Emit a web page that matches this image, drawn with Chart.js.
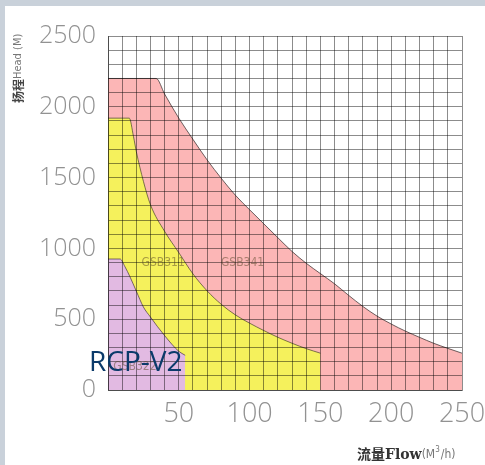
<!DOCTYPE html>
<html>
<head>
<meta charset="utf-8">
<script src="https://cdn.jsdelivr.net/npm/chart.js@4"></script>
<style>
  html, body { margin: 0; padding: 0; background: #c9d1da; }
  canvas { display: block; }
</style>
</head>
<body>
<canvas id="pumpChart" width="485" height="465"></canvas>
<script>
// Flow (M3/h) and head (M) of each pump envelope
const gsb341Flow = [0, 34, 40, 50, 60, 70, 80, 90, 100, 110, 120, 130, 140, 150, 160, 170, 180, 190, 200, 210, 220, 230, 240, 250];
const gsb341Head = [2200, 2200, 2090, 1920, 1770, 1625, 1495, 1375, 1273, 1174, 1075, 978, 895, 822, 750, 668, 590, 522, 466, 416, 372, 330, 294, 260];

const gsb311Flow = [0, 15, 18, 20, 25, 30, 40, 50, 60, 70, 80, 90, 100, 110, 120, 130, 140, 150];
const gsb311Head = [1920, 1920, 1790, 1684, 1474, 1308, 1120, 970, 820, 700, 605, 530, 472, 420, 372, 330, 292, 260];

const gsb322Flow = [0, 8.5, 12, 15.5, 20, 25, 30, 35, 40, 45, 50, 54.5];
const gsb322Head = [925, 925, 870, 800, 698, 586, 515, 447, 384, 324, 273, 245];

const xTickLabels = [50, 100, 150, 200, 250];
const yTickLabels = [0, 500, 1000, 1500, 2000, 2500];

function toPoints(xs, ys) {
    return xs.map((x, i) => ({ x: x, y: ys[i] }));
}

const gridColor = "rgba(0, 0, 0, 0.45)";
const tickColor = "#929292";

// background panel and free text on the chart
const decorPlugin = {
    id: "decor",
    beforeDraw(chart) {
        const ctx = chart.ctx;
        ctx.save();
        ctx.fillStyle = "#c9d1da";
        ctx.fillRect(0, 0, chart.width, chart.height);
        ctx.fillStyle = "#ffffff";
        ctx.fillRect(5, 6, chart.width - 5, chart.height - 6);
        ctx.restore();
    },
    afterDraw(chart) {
        const ctx = chart.ctx;
        const xs = chart.scales.x;
        const ys = chart.scales.y;
        ctx.save();

        // region labels
        ctx.font = "12px 'Liberation Sans Narrow', 'DejaVu Sans Condensed', sans-serif";
        ctx.fillStyle = "rgba(90, 70, 40, 0.5)";
        ctx.textBaseline = "middle";
        ctx.textAlign = "center";
        ctx.fillText("GSB311", xs.getPixelForValue(39), ys.getPixelForValue(900));
        ctx.fillText("GSB341", xs.getPixelForValue(95), ys.getPixelForValue(900));
        ctx.fillText("GSB322", xs.getPixelForValue(19), ys.getPixelForValue(165));

        // product name
        ctx.font = "28px 'Open Sans', sans-serif";
        ctx.fillStyle = "#0b3a6a";
        ctx.textAlign = "left";
        ctx.textBaseline = "alphabetic";
        ctx.fillText("RCP-V2", 89, 371);

        // x axis title
        ctx.textBaseline = "middle";
        ctx.font = "bold 14px 'DejaVu Serif', 'Noto Sans CJK SC', serif";
        ctx.fillStyle = "#333333";
        ctx.fillText("流量Flow", 357, 455);
        let w = ctx.measureText("流量Flow").width;
        ctx.font = "12px 'DejaVu Sans Condensed', sans-serif";
        ctx.fillStyle = "#777777";
        ctx.fillText("(M", 357 + w, 455);
        let w2 = ctx.measureText("(M").width;
        ctx.font = "8px 'DejaVu Sans Condensed', sans-serif";
        ctx.fillText("3", 357 + w + w2, 450);
        let w3 = ctx.measureText("3").width;
        ctx.font = "12px 'DejaVu Sans Condensed', sans-serif";
        ctx.fillText("/h)", 357 + w + w2 + w3 + 1, 455);

        // y axis title (rotated)
        ctx.translate(18, 103);
        ctx.rotate(-Math.PI / 2);
        ctx.textAlign = "left";
        ctx.font = "bold 12px 'Noto Sans CJK SC', sans-serif";
        ctx.fillStyle = "#444444";
        ctx.fillText("扬程", 0, 0);
        w = ctx.measureText("扬程").width;
        ctx.font = "11px 'DejaVu Sans Condensed', sans-serif";
        ctx.fillStyle = "#777777";
        ctx.fillText("Head (M)", w, 0);

        ctx.restore();
    },
};

const ctx = document.getElementById("pumpChart").getContext("2d");

const config = {
    type: "line",
    data: {
        datasets: [
            {
                label: "GSB322",
                data: toPoints(gsb322Flow, gsb322Head),
                backgroundColor: "rgb(226, 186, 226)",
                borderColor: "rgba(70, 50, 70, 0.7)",
                borderWidth: 1,
                fill: "origin",
                pointRadius: 0,
                cubicInterpolationMode: "monotone",
            },
            {
                label: "GSB311",
                data: toPoints(gsb311Flow, gsb311Head),
                backgroundColor: "rgb(245, 241, 92)",
                borderColor: "rgba(70, 70, 40, 0.7)",
                borderWidth: 1,
                fill: "origin",
                pointRadius: 0,
                cubicInterpolationMode: "monotone",
            },
            {
                label: "GSB341",
                data: toPoints(gsb341Flow, gsb341Head),
                backgroundColor: "rgb(252, 182, 182)",
                borderColor: "rgba(60, 50, 50, 0.75)",
                borderWidth: 1,
                fill: "origin",
                pointRadius: 0,
                cubicInterpolationMode: "monotone",
            },
        ],
    },
    options: {
        responsive: false,
        animation: false,
        layout: {
            padding: { top: 36, right: 23, left: 0, bottom: 0 },
        },
        scales: {
            x: {
                type: "linear",
                min: 0,
                max: 250,
                afterFit(scale) {
                    scale.height = 75;
                    scale.paddingLeft = 0;
                    scale.paddingRight = 0;
                },
                ticks: {
                    stepSize: 10,
                    autoSkip: false,
                    maxRotation: 0,
                    padding: 8,
                    color: tickColor,
                    font: { family: "'Open Sans', sans-serif", size: 27, weight: "300" },
                    callback: v => (xTickLabels.includes(v) ? v : ""),
                },
                grid: { color: gridColor, drawTicks: false, lineWidth: 1, z: 1 },
                border: { color: gridColor, z: 1 },
            },
            y: {
                type: "linear",
                min: 0,
                max: 2500,
                afterFit(scale) {
                    scale.width = 108;
                    scale.paddingTop = 0;
                    scale.paddingBottom = 0;
                },
                ticks: {
                    stepSize: 100,
                    autoSkip: false,
                    padding: 12,
                    color: tickColor,
                    font: { family: "'Open Sans', sans-serif", size: 25, weight: "300" },
                    callback: v => (yTickLabels.includes(v) ? v : ""),
                },
                grid: { color: gridColor, drawTicks: false, lineWidth: 1, z: 1 },
                border: { color: gridColor, z: 1 },
            },
        },
        plugins: {
            legend: { display: false },
            tooltip: { enabled: false },
        },
    },
    plugins: [decorPlugin],
};

new Chart(ctx, config);
</script>
</body>
</html>
